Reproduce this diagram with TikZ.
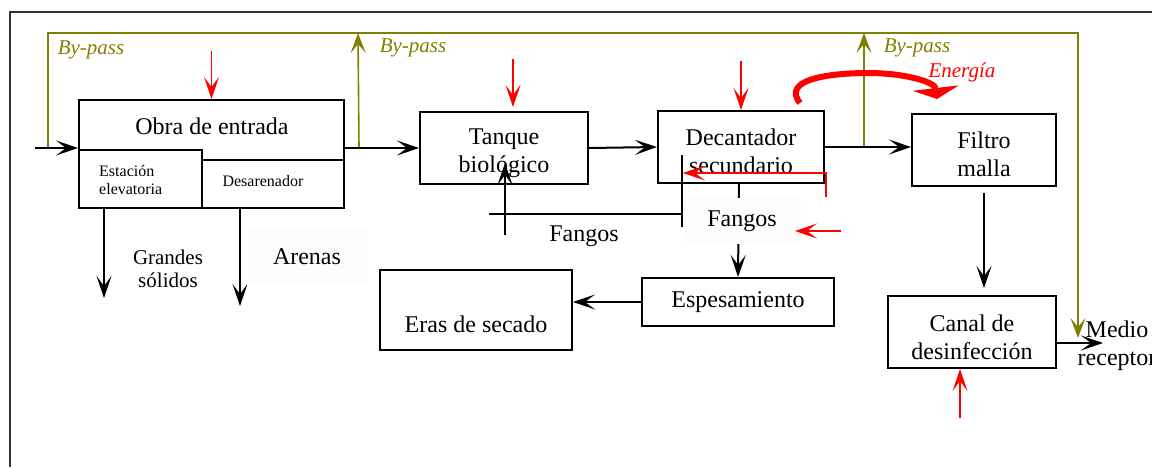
\documentclass[tikz,border=0pt]{standalone}
\usepackage{fontspec}
\setmainfont{Liberation Serif}
\usepackage{xcolor}
\definecolor{bypassolive}{rgb}{0.5, 0.5, 0.0}
\RequirePackage{tikz}
\usetikzlibrary{positioning,calc,arrows.meta}

\tikzset{
	caja/.style={draw, line width=2pt, inner sep=0pt, align=center},
	flecha/.style={line width=2pt, -{Stealth[length=22pt,width=15pt,inset=10pt]}},
	quim/.style={red, line width=1.6pt, -{Stealth[length=22pt,width=15pt,inset=10pt]}},
	bypass/.style={bypassolive, line width=1.6pt},
	bpflecha/.style={bypass, -{Stealth[length=20pt,width=15pt,inset=9pt]}},
	energia/.style={red, line width=6pt, -{Triangle[length=11pt,width=46pt]}},
	bptxt/.style={text=bypassolive, font=\fontsize{21}{24}\selectfont\itshape},
	fondo/.style={fill=black!1, inner sep=0pt, align=center}
}

\begin{document}
\begin{tikzpicture}[x=1pt, y=-1pt, every node/.append style={font=\fontsize{24}{28}\selectfont}]
			\useasboundingbox (0,0) rectangle (1152,467);
			\draw [line width=2pt, black!80] (10,467) -- (10,12) -- (1152,12);
			% cajas
			\node[caja, minimum width=265pt, minimum height=108pt] (obra) at (211.5,154) {};
			\node (obratxt) at (212,126) {Obra de entrada};
			\node[caja, minimum width=123pt, minimum height=58pt] (estac) at (140.5,179) {};
			\node[anchor=west, align=left, inner sep=0pt, font=\fontsize{16}{18}\selectfont] (estactxt) at (99,180) {Estación\\elevatoria};
			\draw [line width=2pt] (estac.north east |- 0,160) -- (obra.east |- 0,160);
			\node[font=\fontsize{16}{18}\selectfont] (desar) at (263,181) {Desarenador};
			\node[caja, minimum width=168pt, minimum height=72pt] (tanque) at (504,148) {};
			\node[align=center] (tanquetxt) at (504,153) {Tanque\\biológico};
			\node[caja, minimum width=166pt, minimum height=72pt] (decant) at (741,147) {};
			\node[align=center] (decanttxt) at (741,151) {Decantador\\secundario};
			\node[caja, minimum width=144pt, minimum height=72pt] (filtro) at (984,150) {};
			\node[align=center] (filtrotxt) at (984,154) {Filtro\\malla};
			\node[caja, minimum width=168pt, minimum height=72pt] (canal) at (972,332) {};
			\node[align=center] (canaltxt) at (972,337) {Canal de\\desinfección};
			\node[caja, minimum width=192pt, minimum height=48pt] (espes) at (738,302) {Espesamiento};
			\node[caja, minimum width=192pt, minimum height=80pt] (eras) at (476,310) {};
			\node (erastxt) at (476,324) {Eras de secado};
			\node[align=center] (medio) at (1117,346) {Medio\\receptor};
			% by-pass
			\coordinate (entrada) at (35,148);
			\coordinate (bp1) at (48,148);
			\draw [bpflecha] (bp1) -- (48,33) -- (1078,33) -- (1078,338);
			\draw [bpflecha] (obra.east |- tanque.west) ++(14,0) -- (358,33);
			\draw [bpflecha] (864,148) -- (864,33);
			\node[bptxt] (bptxt1) at (91,50) {By-pass};
			\node[bptxt] (bptxt2) at (413,48) {By-pass};
			\node[bptxt] (bptxt3) at (917,48) {By-pass};
			% linea de agua
			\draw [flecha] (entrada) -- (entrada -| obra.west);
			\draw [flecha] (obra.east |- tanque.west) -- (tanque.west);
			\draw [flecha] (tanque.east) -- (decant.west);
			\draw [flecha] (decant.east) -- (decant.east -| filtro.west);
			\draw [flecha] ([yshift=-6pt]filtro.south) -- ++(0,95);
			\coordinate (salida) at (1103,343);
			\draw [flecha] (canal.east |- salida) -- (salida);
			% residuos
			\draw [flecha] ([xshift=-36.5pt]estac.south) -- ++(0,89);
			\draw [flecha] ([xshift=28.5pt]obra.south) -- ++(0,97);
			\node[align=center, font=\fontsize{21}{23}\selectfont] (solidos) at (168,269) {Grandes\\sólidos};
			\node[fondo, minimum width=120pt, minimum height=56pt] (arenas) at (307,257) {Arenas};
			% fangos
			\draw [line width=2pt] (682,155) -- (682,227);
			\draw [line width=2pt] (489,214) -- (682,214);
			\draw [flecha] (505,235) -- (505,163);
			\node (fangos1) at (584,236) {Fangos};
			\draw [flecha] ([xshift=-2pt]decant.south) -- (espes.north);
			\node[fondo, minimum width=117pt, minimum height=46pt] (fangos2) at (742,221) {Fangos};
			\draw [flecha] (espes.west) -- (espes.west -| eras.east);
			% reactivos y energia
			\draw [quim] ([yshift=48pt]obra.north) -- (obra.north);
			\draw [quim] ([xshift=9pt,yshift=52pt]tanque.north) -- ([xshift=9pt,yshift=4pt]tanque.north);
			\draw [quim] ([yshift=49pt]decant.north) -- (decant.north);
			\draw [quim] ([xshift=-12pt,yshift=-49pt]canal.south) -- ([xshift=-12pt]canal.south);
			\draw [quim] (826,197) -- (826,173) -- (683,173);
			\draw [quim] (841,231) -- (795,231);
			\draw [energia] (800,103) .. controls (780,78) and (835,73) .. (868,73) .. controls (905,73) and (935,82) .. (937,99);
			\node[text=red, font=\fontsize{21}{24}\selectfont\itshape] (energtxt) at (962,72) {Energía};
		\end{tikzpicture}
\end{document}
